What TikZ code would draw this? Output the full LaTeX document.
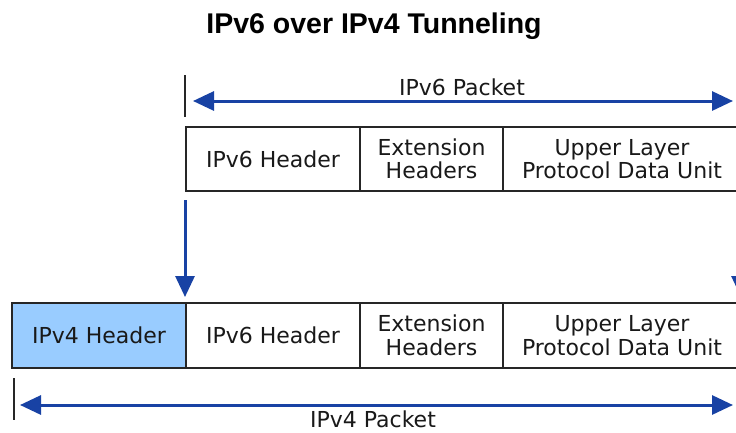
\documentclass[tikz,border=0pt]{standalone}
\usepackage{fontspec}
\setmainfont{DejaVu Sans}
\newfontfamily\titlefont{Liberation Sans}
\usetikzlibrary{arrows.meta}
\definecolor{arrowblue}{RGB}{24,66,164}
\definecolor{hdrblue}{RGB}{153,204,255}
\begin{document}
\begin{tikzpicture}[x=1pt,y=-1pt,
  field/.style={draw=black!85, line width=1.4pt, minimum height=64pt, inner sep=0pt,
    font=\fontsize{22}{23.5}\selectfont, align=center, text=black!90},
  tickline/.style={draw=black!85, line width=1.4pt},
  barrow/.style={draw=arrowblue, line width=3pt, -{Triangle[length=21pt,width=19pt]}},
  dbarrow/.style={draw=arrowblue, line width=3pt, {Triangle[length=21pt,width=19pt]}-{Triangle[length=21pt,width=19pt]}},
  lbl/.style={font=\fontsize{22}{23.5}\selectfont, anchor=base, inner sep=0pt, text=black!90}]
\useasboundingbox (0,0) rectangle (736,432);
\fill[white] (0,0) rectangle (736,432);
% title
\node[font=\titlefont\bfseries\fontsize{28.5}{30}\selectfont, anchor=base, inner sep=0pt] (title) at (374,33) {IPv6 over IPv4 Tunneling};
% IPv6 packet
\coordinate (t6a) at (185,75);
\coordinate (t6b) at (185,117);
\draw[tickline] (t6a) -- (t6b);
\coordinate (p6l) at (193,101);
\coordinate (p6r) at (733,101);
\draw[dbarrow] (p6l) -- (p6r);
\node[lbl] (l6) at (462,95) {IPv6 Packet};
\node[field, minimum width=174pt] (a) at (273,159) {IPv6 Header};
\node[field, minimum width=143pt] (b) at (431.5,159) {Extension\\Headers};
\node[field, minimum width=238pt] (c) at (622,159) {Upper Layer\\Protocol Data Unit};
% down arrows
\coordinate (d1s) at (185,200);
\coordinate (d1e) at (185,297);
\draw[barrow] (d1s) -- (d1e);
\coordinate (d2s) at (741,200);
\coordinate (d2e) at (741,297);
\draw[barrow] (d2s) -- (d2e);
% IPv4 packet
\node[field, minimum width=174pt, minimum height=65pt, fill=hdrblue] (d) at (99,335.5) {IPv4 Header};
\node[field, minimum width=174pt, minimum height=65pt] (e) at (273,335.5) {IPv6 Header};
\node[field, minimum width=143pt, minimum height=65pt] (f) at (431.5,335.5) {Extension\\Headers};
\node[field, minimum width=238pt, minimum height=65pt] (g) at (622,335.5) {Upper Layer\\Protocol Data Unit};
\coordinate (t4a) at (14,378);
\coordinate (t4b) at (14,420);
\draw[tickline] (t4a) -- (t4b);
\coordinate (p4l) at (20,405);
\coordinate (p4r) at (733,405);
\draw[dbarrow] (p4l) -- (p4r);
\node[lbl] (l4) at (373,427) {IPv4 Packet};
\end{tikzpicture}
\end{document}
